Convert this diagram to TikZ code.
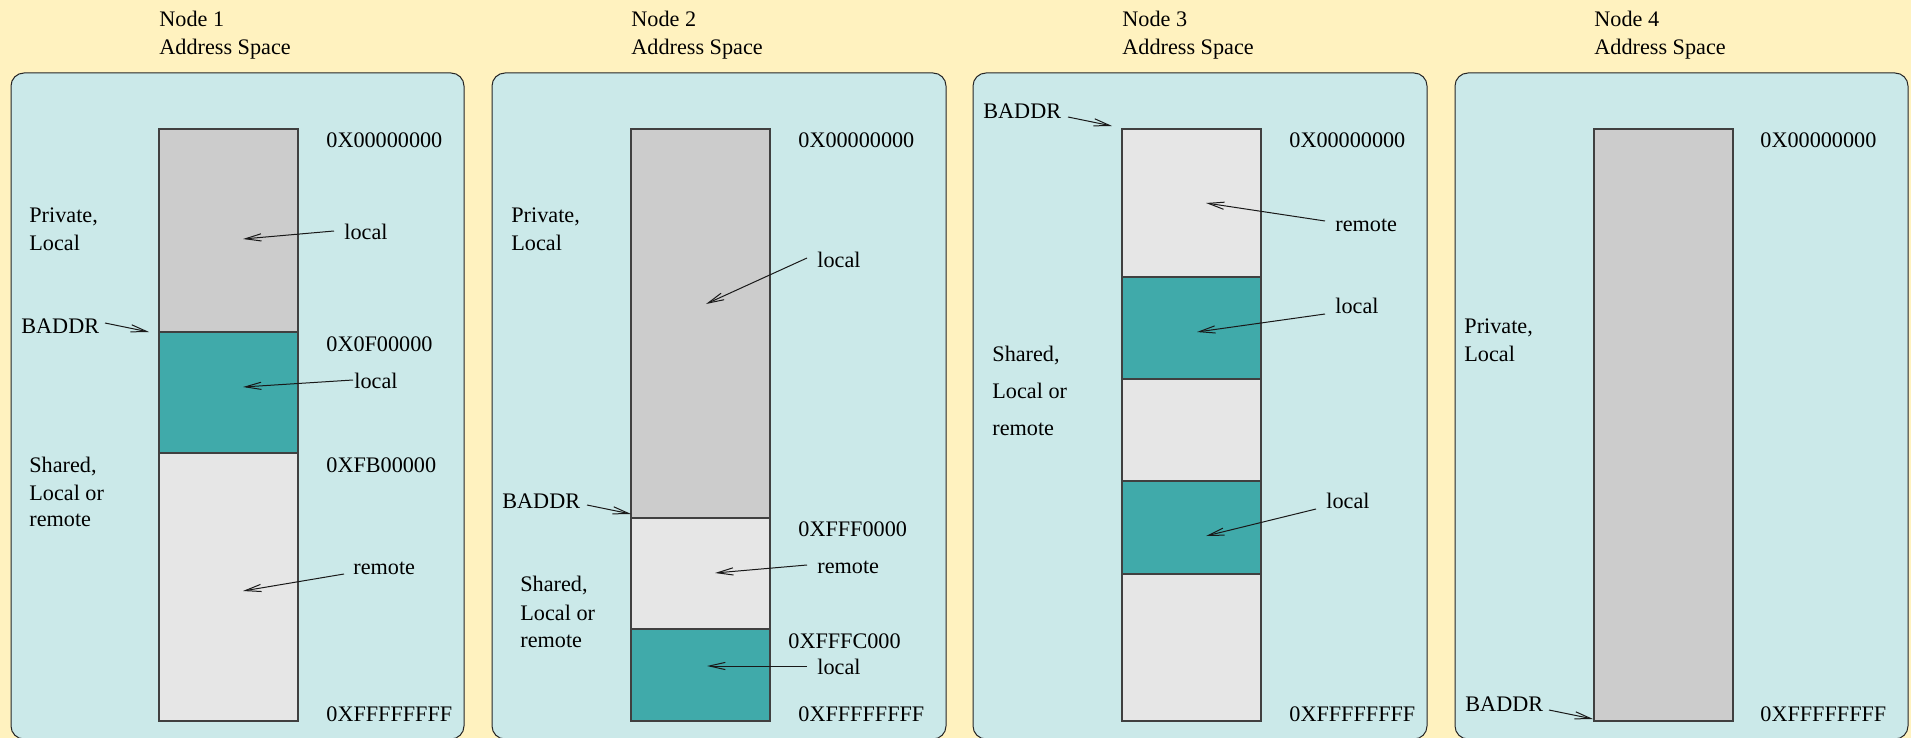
\documentclass[tikz,border=0pt]{standalone}
\usepackage{fontspec}
\setmainfont{Liberation Serif}
\usetikzlibrary{arrows.meta}
\definecolor{bgyellow}{RGB}{255,242,191}
\definecolor{panelfill}{RGB}{203,233,233}
\definecolor{tealseg}{RGB}{64,170,170}
\definecolor{grayseg}{RGB}{204,204,204}
\definecolor{lightseg}{RGB}{230,230,230}
\begin{document}
\begin{tikzpicture}[x=0.5pt,y=-0.5pt,
  lbl/.style={anchor=base west, inner sep=0pt, font=\fontsize{11.1pt}{14pt}\selectfont},
  panel/.style={draw=black!85, fill=panelfill, rounded corners=6.5pt, line width=0.5pt},
  seg/.style={draw=black!75, line width=0.6pt},
  ptr/.style={-{Straight Barb[length=8pt,width=3.6pt]}, line width=0.5pt, black!90}]
\fill[bgyellow] (0,0) rectangle (1911,738);
\useasboundingbox (0,0) rectangle (1911,738);

% panels
\draw[panel] (11,73) rectangle (464,739);
\draw[panel] (492,73) rectangle (946,739);
\draw[panel] (973,73) rectangle (1427,739);
\draw[panel] (1455,73) rectangle (1908,739);

% titles
\node[lbl] (t1a) at (159,27) {Node 1};
\node[lbl] (t1b) at (159,55) {Address Space};
\node[lbl] (t2a) at (631,27) {Node 2};
\node[lbl] (t2b) at (631,55) {Address Space};
\node[lbl] (t3a) at (1122,27) {Node 3};
\node[lbl] (t3b) at (1122,55) {Address Space};
\node[lbl] (t4a) at (1594,27) {Node 4};
\node[lbl] (t4b) at (1594,55) {Address Space};

% ---------- Node 1 ----------
\draw[seg, fill=grayseg] (159,129) rectangle (298,332);
\draw[seg, fill=tealseg] (159,332) rectangle (298,453);
\draw[seg, fill=lightseg] (159,453) rectangle (298,721);
\node[lbl] (p1a0) at (326,148) {0X00000000};
\node[lbl] (p1a1) at (326,351) {0X0F00000};
\node[lbl] (p1a2) at (326,472) {0XFB00000};
\node[lbl] (p1a3) at (326,721) {0XFFFFFFFF};
\node[lbl] (p1pa) at (29,222) {Private,};
\node[lbl] (p1pb) at (29,250) {Local};
\node[lbl] (p1sa) at (29,472) {Shared,};
\node[lbl] (p1sb) at (29,500) {Local or};
\node[lbl] (p1sc) at (29,526) {remote};
\node[lbl] (p1b) at (21,333) {BADDR};
\node[lbl] (p1l1) at (344,239) {local};
\node[lbl] (p1l2) at (354,388) {local};
\node[lbl] (p1r) at (353,574) {remote};
\coordinate (p1bt) at (149,332);
\coordinate (p1l1t) at (243,239);
\coordinate (p1l2t) at (243,387);
\coordinate (p1rt) at (243,591);
\draw[ptr] ([shift={(5.5,-10)}]p1b.base east) -- (p1bt);
\draw[ptr] ([shift={(-10,-8)}]p1l1.base west) -- (p1l1t);
\draw[ptr] ([shift={(-1,-8)}]p1l2.base west) -- (p1l2t);
\draw[ptr] ([shift={(-9,0)}]p1r.base west) -- (p1rt);

% ---------- Node 2 ----------
\draw[seg, fill=grayseg] (631,129) rectangle (770,518);
\draw[seg, fill=lightseg] (631,518) rectangle (770,629);
\draw[seg, fill=tealseg] (631,629) rectangle (770,721);
\node[lbl] (p2a0) at (798,148) {0X00000000};
\node[lbl] (p2a1) at (798,536) {0XFFF0000};
\node[lbl] (p2a2) at (788,648) {0XFFFC000};
\node[lbl] (p2a3) at (798,721) {0XFFFFFFFF};
\node[lbl] (p2pa) at (511,222) {Private,};
\node[lbl] (p2pb) at (511,250) {Local};
\node[lbl] (p2sa) at (520,591) {Shared,};
\node[lbl] (p2sb) at (520,620) {Local or};
\node[lbl] (p2sc) at (520,647) {remote};
\node[lbl] (p2b) at (502,508) {BADDR};
\node[lbl] (p2l1) at (817,267) {local};
\node[lbl] (p2r) at (817,573) {remote};
\node[lbl] (p2l2) at (817,674) {local};
\coordinate (p2bt) at (631,514);
\coordinate (p2l1t) at (706,304);
\coordinate (p2rt) at (715,573);
\coordinate (p2l2t) at (707,666);
\draw[ptr] ([shift={(6.5,-3)}]p2b.base east) -- (p2bt);
\draw[ptr] ([shift={(-10,-9)}]p2l1.base west) -- (p2l1t);
\draw[ptr] ([shift={(-10,-8)}]p2r.base west) -- (p2rt);
\draw[ptr] ([shift={(-10,-8)}]p2l2.base west) -- (p2l2t);

% ---------- Node 3 ----------
\draw[seg, fill=lightseg] (1122,129) rectangle (1261,277);
\draw[seg, fill=tealseg] (1122,277) rectangle (1261,379);
\draw[seg, fill=lightseg] (1122,379) rectangle (1261,481);
\draw[seg, fill=tealseg] (1122,481) rectangle (1261,574);
\draw[seg, fill=lightseg] (1122,574) rectangle (1261,721);
\node[lbl] (p3a0) at (1289,148) {0X00000000};
\node[lbl] (p3a3) at (1289,721) {0XFFFFFFFF};
\node[lbl] (p3sa) at (992,361) {Shared,};
\node[lbl] (p3sb) at (992,398) {Local or};
\node[lbl] (p3sc) at (992,435) {remote};
\node[lbl] (p3b) at (983,119) {BADDR};
\node[lbl] (p3r) at (1335,231) {remote};
\node[lbl] (p3l1) at (1335,313) {local};
\node[lbl] (p3l2) at (1326,508) {local};
\coordinate (p3bt) at (1112,126);
\coordinate (p3rt) at (1206,203);
\coordinate (p3l1t) at (1197,332);
\coordinate (p3l2t) at (1206,536);
\draw[ptr] ([shift={(6.5,-2)}]p3b.base east) -- (p3bt);
\draw[ptr] ([shift={(-10,-10)}]p3r.base west) -- (p3rt);
\draw[ptr] ([shift={(-10,1)}]p3l1.base west) -- (p3l1t);
\draw[ptr] ([shift={(-10,1)}]p3l2.base west) -- (p3l2t);

% ---------- Node 4 ----------
\draw[seg, fill=grayseg] (1594,129) rectangle (1733,721);
\node[lbl] (p4a0) at (1760,148) {0X00000000};
\node[lbl] (p4a3) at (1760,721) {0XFFFFFFFF};
\node[lbl] (p4pa) at (1464,333) {Private,};
\node[lbl] (p4pb) at (1464,361) {Local};
\node[lbl] (p4b) at (1465,711) {BADDR};
\coordinate (p4bt) at (1593,719);
\draw[ptr] ([shift={(5.5,-1)}]p4b.base east) -- (p4bt);
\end{tikzpicture}
\end{document}
